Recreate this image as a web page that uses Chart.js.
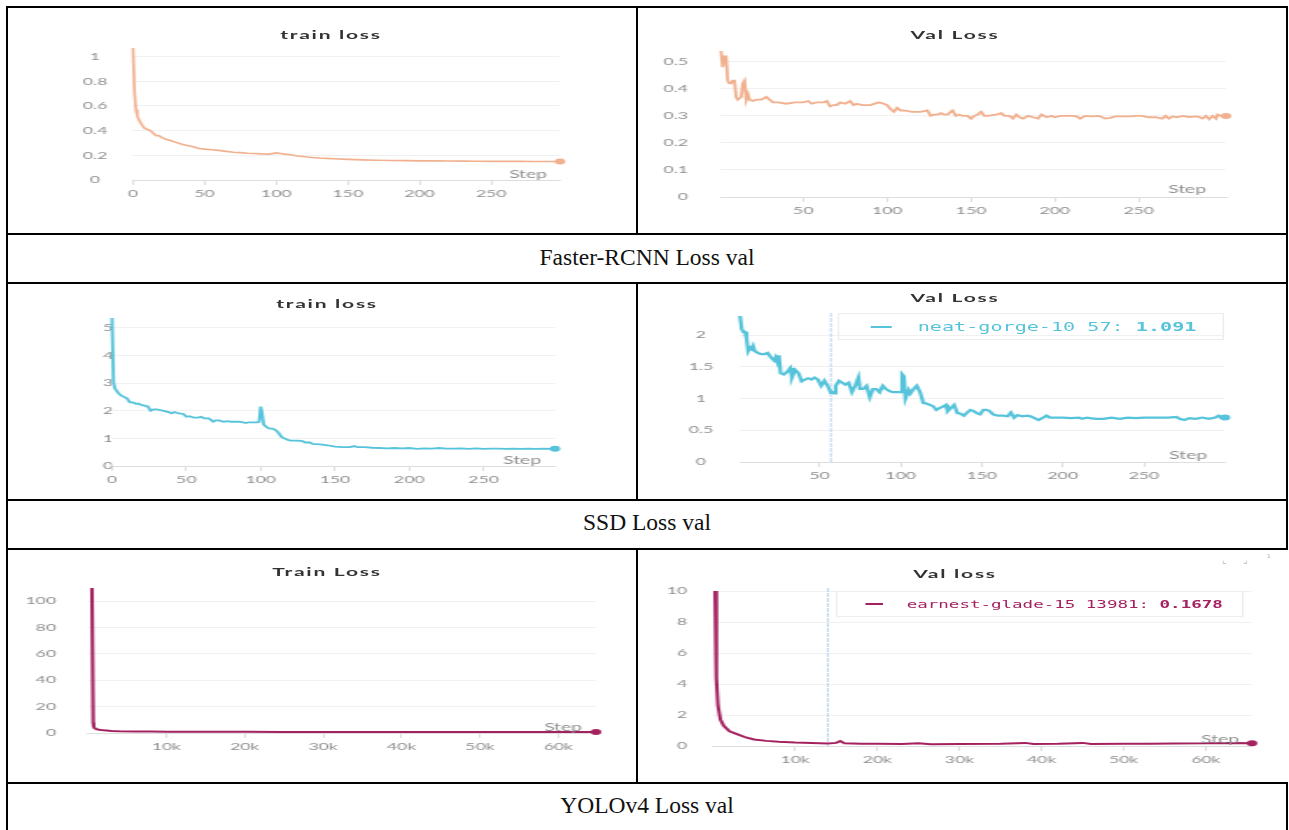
<!DOCTYPE html>
<html>
<head>
<meta charset="utf-8">
<title>Loss curves</title>
<script src="https://cdn.jsdelivr.net/npm/chart.js@4.4.1/dist/chart.umd.min.js"></script>
<style>
  body { margin: 0; width: 1289px; height: 830px; overflow: hidden; position: relative; background: #fff; }
  .hl { position: absolute; height: 2px; background: #000; }
  .vl { position: absolute; width: 2px; background: #000; }
  .cap { position: absolute; left: 8px; width: 1278px; text-align: center; font-family: 'Liberation Serif', 'Times New Roman', serif; font-size: 23.5px; color: #111; }
  .panel { position: absolute; transform-origin: 0 0; }
  .panel canvas { position: absolute; left: 0; top: 0; }
  .ttl { position: absolute; transform: translate(-50%, -50%); font-family: Lato, sans-serif; font-weight: 700; font-size: 12px; letter-spacing: 1px; color: #333; white-space: nowrap; }
  .lgd { position: absolute; box-sizing: border-box; border: 1px solid #ededed; display: flex; align-items: center; font-family: 'DejaVu Sans Mono', monospace; white-space: nowrap; }
  .lgd .dash { display: inline-block; height: 2px; }
  .icon { position: absolute; font-family: 'DejaVu Sans', sans-serif; font-size: 9px; color: #b5b5b5; }
</style>
</head>
<body>

<div class="hl" style="left:6px; top:6px; width:1282px"></div>
<div class="hl" style="left:6px; top:233px; width:1282px"></div>
<div class="hl" style="left:6px; top:282px; width:1282px"></div>
<div class="hl" style="left:6px; top:499px; width:1282px"></div>
<div class="hl" style="left:6px; top:548px; width:1282px"></div>
<div class="hl" style="left:6px; top:782px; width:1282px"></div>
<div class="vl" style="left:6px; top:6px; height:824px"></div>
<div class="vl" style="left:1286px; top:6px; height:544px"></div>
<div class="vl" style="left:1286px; top:782px; height:48px"></div>
<div class="vl" style="left:636px; top:6px; height:229px"></div>
<div class="vl" style="left:636px; top:282px; height:219px"></div>
<div class="vl" style="left:636px; top:548px; height:236px"></div>

<div class="cap" style="top:244px">Faster-RCNN Loss val</div>
<div class="cap" style="top:509px">SSD Loss val</div>
<div class="cap" style="top:792px">YOLOv4 Loss val</div>

<span class="icon" style="left:1222px; top:555px">⌞</span>
<span class="icon" style="left:1243px; top:555px">⌟</span>
<span class="icon" style="left:1267px; top:553px">¹</span>

<script>
// horizontal stretch of the pasted screenshots
const SX = 1.75;

// ---- Faster-RCNN ----
const frcnnTrainSteps = [0, 1, 2, 3, 4, 5, 6, 8, 10, 12,
  14, 16, 18, 20, 23, 26, 30, 34, 38, 42,
  46, 50, 55, 60, 65, 70, 75, 80, 85, 90,
  95, 100, 103, 106, 110, 115, 120, 125, 130, 135,
  140, 150, 160, 170, 180, 190, 200, 210, 220, 230,
  240, 250, 260, 270, 280, 290, 298];
const frcnnTrainLoss = [1.07, 0.72, 0.57, 0.52, 0.49, 0.47, 0.45, 0.42, 0.41, 0.40,
  0.38, 0.36, 0.36, 0.345, 0.33, 0.32, 0.305, 0.29, 0.28, 0.27,
  0.255, 0.25, 0.245, 0.24, 0.232, 0.225, 0.222, 0.217, 0.215, 0.212,
  0.21, 0.22, 0.215, 0.21, 0.205, 0.195, 0.188, 0.183, 0.178, 0.175,
  0.172, 0.167, 0.163, 0.16, 0.158, 0.157, 0.155, 0.156, 0.154, 0.153,
  0.152, 0.151, 0.152, 0.151, 0.15, 0.15, 0.15];

const frcnnValSteps = [1, 2, 3, 4, 5, 6, 7, 8, 9, 10,
  11, 12, 13, 14, 15, 16, 17, 18, 20, 22,
  25, 28, 30, 32, 35, 40, 45, 50, 53, 55,
  58, 60, 62, 64, 66, 68, 70, 72, 75, 78,
  80, 82, 85, 88, 90, 95, 98, 100, 102, 104,
  106, 108, 110, 115, 120, 124, 126, 128, 130, 132,
  134, 136, 139, 141, 143, 145, 148, 150, 152, 154,
  156, 158, 160, 165, 168, 170, 173, 175, 177, 179,
  181, 184, 187, 190, 192, 195, 198, 200, 203, 206,
  210, 213, 215, 218, 222, 226, 230, 233, 236, 240,
  245, 248, 252, 256, 260, 264, 266, 268, 270, 273,
  276, 280, 285, 288, 290, 292, 294, 296, 297, 299,
  302];
const frcnnValLoss = [0.54, 0.48, 0.52, 0.52, 0.43, 0.42, 0.42, 0.43, 0.43, 0.37,
  0.36, 0.36, 0.37, 0.42, 0.43, 0.36, 0.38, 0.36, 0.355, 0.36,
  0.36, 0.37, 0.36, 0.35, 0.35, 0.345, 0.35, 0.35, 0.355, 0.345,
  0.35, 0.35, 0.35, 0.355, 0.335, 0.34, 0.34, 0.35, 0.345, 0.355,
  0.34, 0.345, 0.34, 0.34, 0.34, 0.35, 0.345, 0.34, 0.325, 0.315,
  0.33, 0.32, 0.32, 0.315, 0.315, 0.32, 0.30, 0.305, 0.305, 0.31,
  0.305, 0.305, 0.32, 0.30, 0.305, 0.30, 0.30, 0.29, 0.30, 0.305,
  0.315, 0.30, 0.30, 0.305, 0.31, 0.30, 0.30, 0.29, 0.305, 0.295,
  0.29, 0.30, 0.295, 0.29, 0.305, 0.295, 0.30, 0.295, 0.30, 0.30,
  0.30, 0.298, 0.29, 0.30, 0.298, 0.30, 0.29, 0.293, 0.298, 0.298,
  0.298, 0.30, 0.30, 0.295, 0.295, 0.29, 0.30, 0.29, 0.298, 0.295,
  0.30, 0.296, 0.298, 0.29, 0.30, 0.288, 0.30, 0.29, 0.305, 0.30,
  0.30];

const frcnnTrainXTicks = [0, 50, 100, 150, 200, 250];
const frcnnValXTicks = [50, 100, 150, 200, 250];
const frcnnTrainYTicks = [0, 0.2, 0.4, 0.6, 0.8, 1];
const frcnnValYTicks = [0, 0.1, 0.2, 0.3, 0.4, 0.5];

// ---- SSD ----
const ssdTrainSteps = [0, 1, 2, 4, 6, 8, 10, 12, 14, 16,
  18, 20, 22, 24, 26, 28, 30, 34, 38, 40,
  42, 45, 48, 50, 52, 55, 58, 60, 62, 65,
  67, 68, 70, 72, 75, 78, 80, 82, 85, 88,
  90, 92, 95, 98, 99, 100, 101, 102, 104, 106,
  108, 110, 112, 114, 116, 118, 120, 125, 128, 130,
  133, 135, 140, 145, 150, 155, 160, 163, 165, 170,
  175, 180, 185, 190, 195, 200, 205, 210, 215, 220,
  225, 230, 235, 240, 245, 250, 255, 260, 265, 270,
  275, 280, 285, 290, 295, 298];
const ssdTrainLoss = [5.35, 3.0, 2.8, 2.65, 2.55, 2.5, 2.45, 2.3, 2.3, 2.25,
  2.25, 2.2, 2.18, 2.15, 2.0, 2.05, 2.05, 2.0, 1.95, 1.9,
  1.95, 1.9, 1.88, 1.78, 1.8, 1.75, 1.75, 1.78, 1.72, 1.72,
  1.65, 1.6, 1.65, 1.65, 1.6, 1.62, 1.6, 1.6, 1.6, 1.58,
  1.55, 1.58, 1.58, 1.58, 1.6, 2.15, 1.9, 1.5, 1.4, 1.35,
  1.35, 1.3, 1.2, 1.05, 1.0, 0.95, 0.92, 0.92, 0.9, 0.85,
  0.85, 0.8, 0.78, 0.75, 0.7, 0.68, 0.68, 0.72, 0.68, 0.68,
  0.66, 0.65, 0.64, 0.65, 0.64, 0.65, 0.62, 0.64, 0.63, 0.65,
  0.63, 0.63, 0.64, 0.62, 0.64, 0.62, 0.63, 0.63, 0.62, 0.63,
  0.62, 0.63, 0.62, 0.63, 0.62, 0.62];

const ssdValSteps = [1, 2, 3, 4, 5, 6, 7, 8, 9, 10,
  12, 14, 16, 18, 20, 22, 23, 24, 25, 26,
  28, 30, 32, 33, 35, 37, 39, 41, 43, 45,
  47, 49, 51, 53, 55, 57, 58, 59, 60, 62,
  64, 66, 68, 70, 72, 74, 75, 77, 79, 81,
  83, 85, 87, 89, 91, 93, 95, 97, 99, 100,
  101, 102, 103, 105, 106, 108, 110, 112, 114, 116,
  118, 120, 122, 124, 126, 128, 129, 131, 133, 135,
  137, 139, 141, 143, 145, 147, 149, 151, 153, 155,
  157, 160, 163, 166, 168, 170, 172, 175, 178, 180,
  182, 185, 188, 190, 192, 195, 200, 205, 210, 212,
  215, 220, 225, 230, 235, 240, 245, 250, 255, 260,
  265, 270, 272, 275, 278, 282, 286, 290, 294, 296,
  298, 300];
const ssdValLoss = [2.3, 2.1, 2.05, 2.05, 1.95, 1.75, 1.8, 1.78, 1.83, 1.75,
  1.72, 1.7, 1.7, 1.72, 1.65, 1.6, 1.65, 1.58, 1.68, 1.4,
  1.38, 1.42, 1.48, 1.33, 1.45, 1.4, 1.27, 1.3, 1.32, 1.3,
  1.33, 1.3, 1.2, 1.28, 1.2, 1.091, 1.1, 1.08, 1.2, 1.28,
  1.25, 1.22, 1.25, 1.1, 1.2, 1.33, 1.15, 1.15, 1.2, 1.02,
  1.15, 1.15, 1.1, 1.2, 1.15, 1.12, 1.1, 1.1, 1.1, 1.1,
  1.38, 1.35, 1.0, 1.13, 1.08, 1.15, 1.2, 1.1, 0.93, 0.92,
  0.9, 0.88, 0.82, 0.85, 0.87, 0.9, 0.8, 0.85, 0.9, 0.77,
  0.76, 0.73, 0.78, 0.82, 0.8, 0.77, 0.75, 0.82, 0.82, 0.8,
  0.75, 0.73, 0.73, 0.72, 0.78, 0.7, 0.74, 0.72, 0.73, 0.72,
  0.7, 0.66, 0.7, 0.73, 0.7, 0.7, 0.7, 0.69, 0.7, 0.68,
  0.7, 0.68, 0.68, 0.7, 0.68, 0.7, 0.69, 0.7, 0.7, 0.7,
  0.7, 0.71, 0.68, 0.66, 0.69, 0.68, 0.7, 0.68, 0.7, 0.73,
  0.69, 0.7];

const ssdTrainXTicks = [0, 50, 100, 150, 200, 250];
const ssdValXTicks = [50, 100, 150, 200, 250];
const ssdTrainYTicks = [0, 1, 2, 3, 4, 5];
const ssdValYTicks = [0, 0.5, 1, 1.5, 2];
const ssdValHover = { run: 'neat-gorge-10', step: 57, value: '1.091' };

// ---- YOLOv4 ----
const yoloTrainSteps = [500, 660, 720, 800, 1000, 1400, 2000,
  3000, 4000, 6000, 8000, 10000, 15000, 20000, 25000, 30000, 35000,
  40000, 45000, 50000, 55000, 60000, 64800];
const yoloTrainLoss = [110, 8, 5, 4, 3, 2.5, 2,
  1.6, 1.4, 1.2, 1.1, 1.0, 0.95, 0.9, 0.85, 0.8, 0.8,
  0.75, 0.75, 0.7, 0.7, 0.7, 0.7];

const yoloValSteps = [250, 400, 600, 900, 1300, 2000, 3000, 4000, 5000, 6500,
  8000, 10000, 12000, 13981, 15000, 15500, 16000, 18000, 20000, 23000,
  25000, 26500, 30000, 35000, 38000, 39000, 42000, 45000, 46000, 50000,
  53000, 56000, 60000, 63000, 65600];
const yoloValLoss = [10, 4.4, 2.6, 1.7, 1.3, 0.95, 0.75, 0.55, 0.42, 0.33,
  0.27, 0.22, 0.19, 0.1678, 0.2, 0.32, 0.17, 0.14, 0.14, 0.13,
  0.18, 0.12, 0.13, 0.14, 0.2, 0.13, 0.14, 0.2, 0.13, 0.15,
  0.14, 0.16, 0.17, 0.2, 0.18];

const yoloXTicks = [10000, 20000, 30000, 40000, 50000, 60000];
const yoloTrainYTicks = [0, 20, 40, 60, 80, 100];
const yoloValYTicks = [0, 2, 4, 6, 8, 10];
const yoloValHover = { run: 'earnest-glade-15', step: 13981, value: '0.1678' };

// ---- look ----
const orange = '#f1b08e';
const cyan = '#55c3da';
const magenta = '#a4215f';
const tickColor = '#8e8e8e';
const gridColor = '#f1f1f1';
const axisColor = '#dedede';
const fontFamily = "Lato, 'Noto Sans', sans-serif";
const tickSize = 10;

Chart.defaults.font.family = fontFamily;

const kFormat = v => (v / 1000) + 'k';

// positions are in page pixels; box = cell [x, y, w, h], area = plot [left, top, right, bottom]
const panels = [
  { title: 'train loss', box: [8, 8, 628, 225], area: [133, 48, 560, 180], titleAt: [331, 34],
    yLabelX: 95, yAlign: 'center', stepAt: [547, 174],
    steps: frcnnTrainSteps, values: frcnnTrainLoss, color: orange, width: 1.6,
    xMin: 0, xMax: 298, yMax: 1.07, xTicks: frcnnTrainXTicks, yTicks: frcnnTrainYTicks },
  { title: 'Val Loss', box: [638, 8, 646, 225], area: [721, 51, 1226, 197], titleAt: [955, 34],
    yLabelX: 688, yAlign: 'near', stepAt: [1206, 189],
    steps: frcnnValSteps, values: frcnnValLoss, color: orange, width: 1.8,
    xMin: 1, xMax: 302, yMax: 0.54, xTicks: frcnnValXTicks, yTicks: frcnnValYTicks },
  { title: 'train loss', box: [8, 284, 628, 215], area: [112, 318, 555, 466], titleAt: [327, 303],
    yLabelX: 108, yAlign: 'center', stepAt: [541, 460],
    steps: ssdTrainSteps, values: ssdTrainLoss, color: cyan, width: 1.8,
    xMin: 0, xMax: 298, yMax: 5.35, xTicks: ssdTrainXTicks, yTicks: ssdTrainYTicks },
  { title: 'Val Loss', box: [638, 284, 646, 215], area: [740, 316, 1225, 462], titleAt: [955, 297],
    yLabelX: 701, yAlign: 'center', stepAt: [1207, 455],
    steps: ssdValSteps, values: ssdValLoss, color: cyan, width: 2.2,
    xMin: 1, xMax: 300, yMax: 2.3, xTicks: ssdValXTicks, yTicks: ssdValYTicks,
    hover: ssdValHover, legendBox: [838, 313, 1224, 340], legendDash: [869, 890], legendText: 916, legendFont: 11.5 },
  { title: 'Train Loss', box: [8, 550, 628, 232], area: [88, 588, 596, 733], titleAt: [327, 571],
    yLabelX: 56, yAlign: 'near', stepAt: [582, 727],
    steps: yoloTrainSteps, values: yoloTrainLoss, color: magenta, width: 2,
    xMin: 0, xMax: 64800, yMax: 110, xTicks: yoloXTicks, yTicks: yoloTrainYTicks, xFormat: kFormat },
  { title: 'Val loss', box: [638, 550, 646, 232], area: [713, 591, 1252, 746], titleAt: [955, 573],
    yLabelX: 687, yAlign: 'near', stepAt: [1239, 739],
    steps: yoloValSteps, values: yoloValLoss, color: magenta, width: 2,
    xMin: 0, xMax: 65600, yMax: 10, xTicks: yoloXTicks, yTicks: yoloValYTicks, xFormat: kFormat,
    hover: yoloValHover, legendBox: [836, 591, 1244, 617], legendDash: [863, 882], legendText: 905, legendFont: 10 }
];

const measureCtx = document.createElement('canvas').getContext('2d');
function textWidth(s, px) {
    measureCtx.font = px + 'px ' + fontFamily;
    return measureCtx.measureText(s).width;
}

// thin vertical line at the hovered step
const hoverLine = {
    id: 'hoverLine',
    beforeDatasetsDraw(chart, args, opts) {
        if (opts.step == null) return;
        const x = chart.scales.x.getPixelForValue(opts.step);
        const { top, bottom } = chart.chartArea;
        const ctx = chart.ctx;
        ctx.save();
        ctx.strokeStyle = '#a9cdef';
        ctx.lineWidth = 0.8;
        ctx.setLineDash([4, 1]);
        ctx.beginPath();
        ctx.moveTo(x, top - 3);
        ctx.lineTo(x, bottom);
        ctx.stroke();
        ctx.restore();
    }
};

// "Step" caption sitting on the right end of the x axis
const stepLabel = {
    id: 'stepLabel',
    afterDraw(chart, args, opts) {
        const ctx = chart.ctx;
        ctx.save();
        ctx.font = '11px ' + fontFamily;
        ctx.fillStyle = tickColor;
        ctx.textAlign = 'right';
        ctx.textBaseline = 'middle';
        ctx.fillText('Step', chart.chartArea.right - opts.dx, chart.chartArea.bottom - opts.dy);
        ctx.restore();
    }
};

function makePanel(p) {
    const [bx, by, bw, bh] = p.box;
    const W = Math.round(bw / SX), H = bh;
    const cx = x => (x - bx) / SX;
    const cy = y => y - by;

    const wrap = document.createElement('div');
    wrap.className = 'panel';
    Object.assign(wrap.style, { left: bx + 'px', top: by + 'px', width: W + 'px', height: H + 'px', transform: 'scaleX(' + SX + ')' });
    document.body.appendChild(wrap);

    const canvas = document.createElement('canvas');
    canvas.width = W;
    canvas.height = H;
    canvas.style.width = W + 'px';
    canvas.style.height = H + 'px';
    wrap.appendChild(canvas);

    const title = document.createElement('div');
    title.className = 'ttl';
    title.textContent = p.title;
    title.style.left = cx(p.titleAt[0]) + 'px';
    title.style.top = cy(p.titleAt[1]) + 'px';
    wrap.appendChild(title);

    if (p.hover) {
        const lg = document.createElement('div');
        lg.className = 'lgd';
        Object.assign(lg.style, {
            left: cx(p.legendBox[0]) + 'px', top: cy(p.legendBox[1]) + 'px',
            width: (p.legendBox[2] - p.legendBox[0]) / SX + 'px', height: (p.legendBox[3] - p.legendBox[1]) + 'px',
            paddingLeft: (p.legendDash[0] - p.legendBox[0]) / SX + 'px', fontSize: p.legendFont + 'px', color: p.color
        });
        const dash = document.createElement('span');
        dash.className = 'dash';
        dash.style.width = (p.legendDash[1] - p.legendDash[0]) / SX + 'px';
        dash.style.marginRight = (p.legendText - p.legendDash[1]) / SX + 'px';
        dash.style.background = p.color;
        const txt = document.createElement('span');
        txt.textContent = p.hover.run + ' ' + p.hover.step + ': ';
        const val = document.createElement('b');
        val.textContent = p.hover.value;
        txt.appendChild(val);
        lg.appendChild(dash);
        lg.appendChild(txt);
        wrap.appendChild(lg);
    }

    const L = cx(p.area[0]), T = cy(p.area[1]), R = cx(p.area[2]), B = cy(p.area[3]);
    const widest = Math.max(...p.yTicks.map(v => textWidth(String(v), tickSize)));
    const yPad = p.yAlign === 'center' ? L - cx(p.yLabelX) - widest / 2 : L - cx(p.yLabelX);
    const last = p.steps.length - 1;

    new Chart(canvas, {
        type: 'line',
        data: {
            datasets: [{
                data: p.steps.map((s, i) => ({ x: s, y: p.values[i] })),
                borderColor: p.color,
                borderWidth: p.width,
                tension: 0,
                pointRadius: ctx => (ctx.dataIndex === last ? 3 : 0),
                pointBackgroundColor: p.color,
                pointBorderWidth: 0,
                clip: false
            }]
        },
        options: {
            responsive: false,
            animation: false,
            events: [],
            layout: { padding: { left: 0, top: T, right: W - R, bottom: 0 } },
            plugins: {
                legend: { display: false },
                tooltip: { enabled: false },
                hoverLine: { step: p.hover ? p.hover.step : null },
                stepLabel: { dx: (p.area[2] - p.stepAt[0]) / SX, dy: p.area[3] - p.stepAt[1] }
            },
            scales: {
                x: {
                    type: 'linear',
                    min: p.xMin,
                    max: p.xMax,
                    afterBuildTicks: s => { s.ticks = p.xTicks.map(v => ({ value: v })); },
                    afterFit: s => { s.height = H - B; },
                    ticks: { callback: p.xFormat || (v => String(v)), color: tickColor, font: { size: tickSize }, padding: 3, maxRotation: 0, autoSkip: false },
                    grid: { drawOnChartArea: false, drawTicks: true, tickLength: 5, color: axisColor },
                    border: { color: axisColor, width: 1 }
                },
                y: {
                    type: 'linear',
                    min: 0,
                    max: p.yMax,
                    afterBuildTicks: s => { s.ticks = p.yTicks.map(v => ({ value: v })); },
                    afterFit: s => { s.width = L; },
                    ticks: { callback: v => String(v), color: tickColor, font: { size: tickSize }, padding: yPad, crossAlign: p.yAlign },
                    grid: { color: gridColor, drawTicks: false },
                    border: { display: false }
                }
            }
        },
        plugins: [hoverLine, stepLabel]
    });
}

panels.forEach(makePanel);
</script>
</body>
</html>
